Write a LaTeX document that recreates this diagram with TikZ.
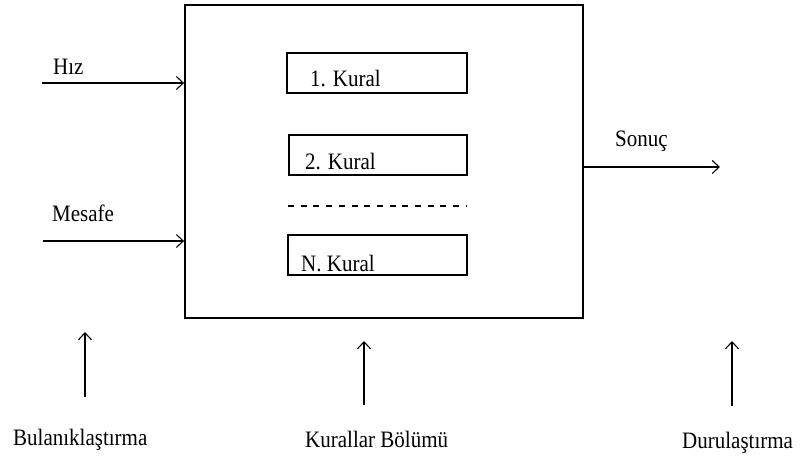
\documentclass[tikz,border=0pt]{standalone}
\usepackage{fontspec}
\setmainfont{Liberation Serif}
\usetikzlibrary{arrows.meta}
% labels are set a little taller than the plain face
\newcommand{\tall}[1]{\scalebox{1}[1.12]{#1}}
\begin{document}
\begin{tikzpicture}[x=1pt,y=-1pt,
  txt/.style={inner sep=0pt,anchor=base west,font=\fontsize{21}{25}\selectfont},
  rulebox/.style={draw,line width=1.4pt,minimum height=40pt,inner sep=0pt},
  flow/.style={line width=1.2pt,-{Straight Barb[length=7pt,width=13pt,line width=1.1pt]}}]
  \useasboundingbox (0,0) rectangle (801,457);
  % inference block
  \node[draw,line width=1.8pt,minimum width=398pt,minimum height=313pt,inner sep=0pt] (fis) at (384,161.5) {};
  % rule boxes
  \node[rulebox,minimum width=180pt] (r1) at (377,73) {};
  \node[rulebox,minimum width=178pt] (r2) at (378,155) {};
  \node[rulebox,minimum width=179pt] (rn) at (377.5,255) {};
  \node[txt] (r1t) at (310,87) {\tall{1. Kural}};
  \node[txt] (r2t) at (305,170) {\tall{2. Kural}};
  \node[txt] (rnt) at (301,272) {\tall{N. Kural}};
  % dots between rules
  \coordinate (d1) at (288,206);
  \coordinate (d2) at (467,206);
  \draw[line width=1.2pt,dash pattern=on 6pt off 6.7pt] (d1) -- (d2);
  % inputs
  \coordinate (hiz) at (42,83);
  \coordinate (mes) at (43,241);
  \draw[flow] (hiz) -- (hiz -| fis.west);
  \draw[flow] (mes) -- (mes -| fis.west);
  \node[txt] (hizt) at (53,75) {\tall{Hız}};
  \node[txt] (mest) at (52,222) {\tall{Mesafe}};
  % output
  \coordinate (son) at (720,167);
  \draw[flow] (son -| fis.east) -- (son);
  \node[txt] (sont) at (615,147) {\tall{Sonuç}};
  % stage pointers
  \coordinate (b1) at (85,397);
  \coordinate (t1) at (85,332);
  \coordinate (b2) at (364,405);
  \coordinate (t2) at (364,341);
  \coordinate (b3) at (732,406);
  \coordinate (t3) at (732,341);
  \draw[flow] (b1) -- (t1);
  \draw[flow] (b2) -- (t2);
  \draw[flow] (b3) -- (t3);
  \node[txt] (l1) at (13,445) {\tall{Bulanıklaştırma}};
  \node[txt] (l2) at (305,447) {\tall{Kurallar Bölümü}};
  \node[txt] (l3) at (682,448) {\tall{Durulaştırma}};
\end{tikzpicture}
\end{document}
